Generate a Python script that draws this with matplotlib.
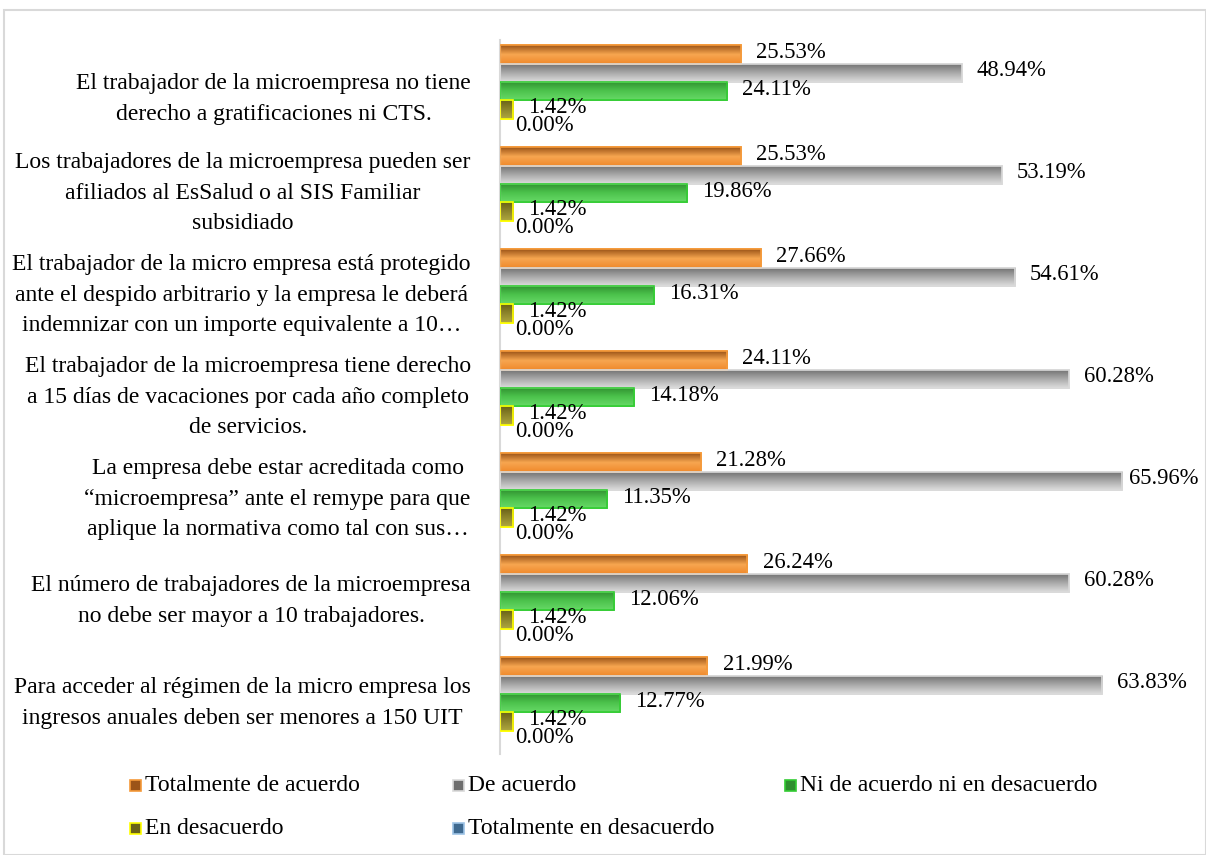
import numpy as np
import matplotlib.pyplot as plt
import matplotlib.transforms as mtransforms
from matplotlib.colors import LinearSegmentedColormap
from matplotlib.patches import Rectangle

plt.rcParams['font.family'] = ['Liberation Serif', 'DejaVu Serif']

# categories, bottom to top
categorias = [
    "Para acceder al régimen de la micro empresa los\ningresos anuales deben ser menores a 150 UIT",
    "El número de trabajadores de la microempresa\nno debe ser mayor a 10 trabajadores.",
    "La empresa debe estar acreditada como\n“microempresa” ante el remype para que\naplique la normativa como tal con sus…",
    "El trabajador de la microempresa tiene derecho\na 15 días de vacaciones por cada año completo\nde servicios.",
    "El trabajador de la micro empresa está protegido\nante el despido arbitrario y la empresa le deberá\nindemnizar con un importe equivalente a 10…",
    "Los trabajadores de la microempresa pueden ser\nafiliados al EsSalud o al SIS Familiar\nsubsidiado",
    "El trabajador de la microempresa no tiene\nderecho a gratificaciones ni CTS.",
]
series = ["Totalmente de acuerdo", "De acuerdo", "Ni de acuerdo ni en desacuerdo",
          "En desacuerdo", "Totalmente en desacuerdo"]
tot_acuerdo = [21.99, 26.24, 21.28, 24.11, 27.66, 25.53, 25.53]
de_acuerdo = [63.83, 60.28, 65.96, 60.28, 54.61, 53.19, 48.94]
ni_ni = [12.77, 12.06, 11.35, 14.18, 16.31, 19.86, 24.11]
en_desacuerdo = [1.42, 1.42, 1.42, 1.42, 1.42, 1.42, 1.42]
tot_desacuerdo = [0.00, 0.00, 0.00, 0.00, 0.00, 0.00, 0.00]
valores = [tot_acuerdo, de_acuerdo, ni_ni, en_desacuerdo, tot_desacuerdo]

# gradient colours (top -> bottom) and edge colours
grads = [["#9c5418", "#f7a650", "#f08a2c"],
         ["#6e6e6e", "#a8a8a8", "#dcdcdc"],
         ["#2f8f2f", "#4cc24c", "#66d966"],
         ["#6a6218", "#8e862c", "#b0a840"],
         ["#3f6a90", "#5b84aa", "#8fb0d0"]]
bordes = ["#f59a3a", "#d9d9d9", "#33cc33", "#ffff00", "#9dc3e6"]

fig = plt.figure(figsize=(12.06, 8.55), dpi=100)
fig.patches.append(Rectangle((4/1206, 0), 1 - 4/1206, 1 - 10/855, transform=fig.transFigure,
                             fill=False, edgecolor="#d9d9d9", linewidth=1.5))
ax = fig.add_axes([500/1206, 0.118, 0.9777 - 500/1206, 0.835])

xmax = 72
y = np.arange(len(categorias))
h = 0.18
offs = [0.36, 0.18, 0.0, -0.18, -0.36]
for k in range(5):
    bars = ax.barh(y + offs[k], valores[k], height=h, color=grads[k][1],
                   edgecolor=bordes[k], linewidth=1.2, zorder=2)
    cmap = LinearSegmentedColormap.from_list("g%d" % k, grads[k])
    g = np.linspace(0, 1, 50).reshape(-1, 1)
    for b in bars:
        x0, y0 = b.get_x(), b.get_y()
        w, hh = b.get_width(), b.get_height()
        if w <= 0:
            continue
        im = ax.imshow(g, extent=[x0, x0 + w, y0, y0 + hh], aspect='auto',
                       cmap=cmap, zorder=2.5, interpolation='bilinear')
        im.set_clip_path(b)
        ax.add_patch(Rectangle((x0, y0), w, hh, fill=False, edgecolor=bordes[k],
                               linewidth=1.2, zorder=3))
    for yi, v in zip(y + offs[k], valores[k]):
        # labels get pushed left near the right edge (like excel does)
        xt = min(v + 1.6, xmax - 5.3)
        ax.text(xt, yi + 0.02, "%.2f%%" % v, va='center', ha='left', fontsize=16.3)

ax.set_xlim(0, xmax)
ax.set_ylim(-0.5, 6.5)
ax.set_yticks(y)
ax.set_yticklabels(categorias, fontsize=17, multialignment='center', linespacing=1.6,
                   va='center')
ax.tick_params(axis='y', length=0, pad=21)
# top label sits a bit lower in the original
lab = ax.get_yticklabels()[-1]
lab.set_transform(lab.get_transform() +
                  mtransforms.ScaledTranslation(0, -8 / 100, fig.dpi_scale_trans))
ax.set_xticks([])
for s in ['top', 'right', 'bottom']:
    ax.spines[s].set_visible(False)
ax.spines['left'].set_color("#d9d9d9")
ax.spines['left'].set_linewidth(1.5)

# legend
leg_pos = [(130, 785), (453, 785), (785, 785), (130, 828), (453, 828)]
for k, (px, py) in enumerate(leg_pos):
    fx, fy = px / 1206, 1 - py / 855
    s = 11
    fig.patches.append(Rectangle((fx, fy - s / 2 / 855), s / 1206, s / 855,
                                 transform=fig.transFigure, facecolor=grads[k][0],
                                 edgecolor=bordes[k], linewidth=1.2))
    fig.text(fx + 15 / 1206, fy, series[k], fontsize=17, va='center', ha='left')

fig.savefig("out.png", dpi=100)
